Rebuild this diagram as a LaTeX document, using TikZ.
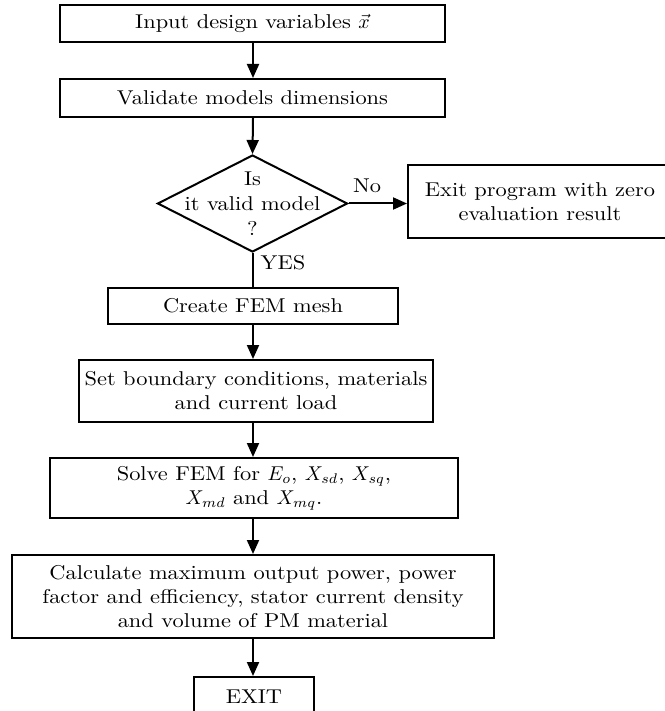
\documentclass[tikz,border=0pt]{standalone}
\usepackage{fontspec}
\setmainfont{Latin Modern Roman}[FakeStretch=1.12]
\usetikzlibrary{shapes.geometric,arrows.meta}

\begin{document}
\begin{tikzpicture}[x=0.5pt,y=-0.5pt,
  txt/.style={font=\fontsize{10}{12}\selectfont},
  box/.style={draw, line width=1pt, rectangle, inner sep=0pt, align=center, txt},
  arr/.style={line width=1pt, -{Triangle[length=7pt,width=6pt]}},
  conn/.style={line width=1pt},
  lbl/.style={txt, inner sep=0pt}]
\fill[white] (0,0) rectangle (664,711);
\useasboundingbox (0,0) rectangle (664,711);

% vertical spine of the main flow
\coordinate (sp) at (253,0);

\node[box, minimum width=192.5pt, minimum height=18.5pt] (input) at (252.5,23.5)
  {Input design variables $\vec{x}$};
\node[box, minimum width=192.5pt, minimum height=19pt] (valid) at (252.5,98)
  {Validate models dimensions};
\node[draw, line width=1pt, diamond, inner sep=0pt,
      minimum width=95pt, minimum height=48.5pt] (dec) at (252.5,203.5) {};
\node[lbl, align=center] (dectext) at (dec) {Is\\[0.5pt]it valid model\\[0.5pt]?};
\node[box, minimum width=132pt, minimum height=36.5pt] (quit) at (540,201.5)
  {Exit program with zero\\evaluation result};
\node[box, minimum width=145pt, minimum height=18pt] (mesh) at (253,306)
  {Create FEM mesh};
\node[box, minimum width=177pt, minimum height=31pt] (bc) at (256,391)
  {Set boundary conditions, materials\\and current load};
\node[box, minimum width=204pt, minimum height=30pt] (solve) at (254,488)
  {Solve FEM for $E_o$, $X_{sd}$, $X_{sq}$,\\$X_{md}$ and $X_{mq}$.};
\node[box, minimum width=241pt, minimum height=41.5pt] (calc) at (253,596.5)
  {Calculate maximum output power, power\\factor and efficiency, stator current density\\and volume of PM material};
\node[box, minimum width=60pt, minimum height=19.5pt] (exit) at (254,696.5)
  {EXIT};

% connectors
\draw[arr] (input.south -| sp) -- (valid.north -| sp);
\draw[arr] (valid.south -| sp) -- (dec.north);
\draw[arr] (dec.east) -- (quit.west |- dec.east);
\draw[conn] (dec.south) -- (mesh.north -| dec.south);
\draw[arr] (mesh.south -| sp) -- (bc.north -| sp);
\draw[arr] (bc.south -| sp) -- (solve.north -| sp);
\draw[arr] (solve.south -| sp) -- (calc.north -| sp);
\draw[arr] (calc.south -| sp) -- (exit.north -| sp);

% branch labels
\node[lbl] (no) at (367,186) {No};
\node[lbl] (yes) at (283,263) {YES};
\end{tikzpicture}
\end{document}
